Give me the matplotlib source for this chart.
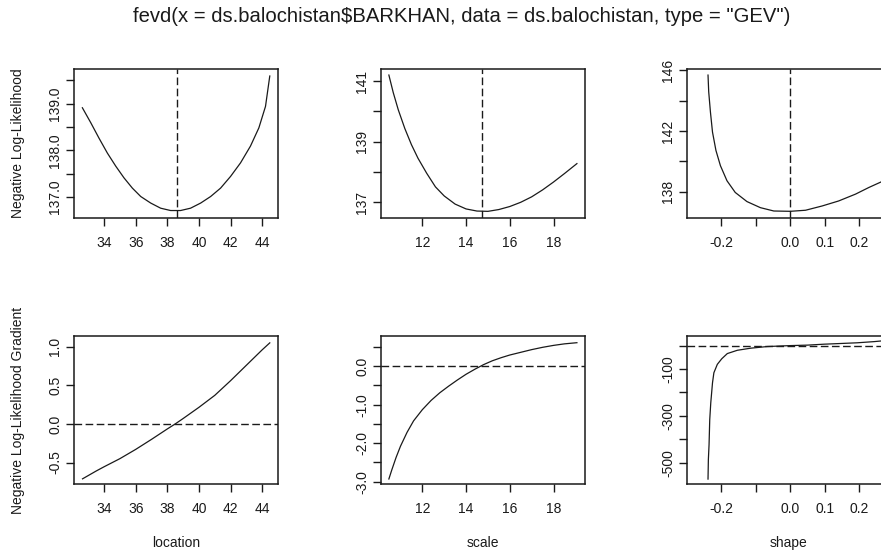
import numpy as np
import matplotlib
matplotlib.use("Agg")
import matplotlib.pyplot as plt

plt.rcParams["font.family"] = ["Liberation Sans", "DejaVu Sans"]

TITLE = 'fevd(x = ds.balochistan$BARKHAN, data = ds.balochistan, type = "GEV")'

# profile negative log-likelihood in each parameter
loc_x = [32.63, 33.16, 33.68, 34.21, 34.74, 35.26, 35.79, 36.32, 36.95, 37.58,
         38.21, 38.84, 39.47, 40.11, 40.74, 41.37, 42.00, 42.63, 43.26, 43.79,
         44.21, 44.48]
loc_nll = [138.91, 138.59, 138.26, 137.94, 137.66, 137.41, 137.19, 137.01, 136.87,
           136.76, 136.71, 136.71, 136.76, 136.87, 137.01, 137.19, 137.44, 137.73,
           138.09, 138.48, 138.94, 139.59]

scale_x = [10.47, 10.67, 10.90, 11.20, 11.50, 11.80, 12.20, 12.60, 13.00, 13.50,
           14.00, 14.50, 15.00, 15.50, 16.00, 16.50, 17.00, 17.50, 18.00, 18.50,
           19.07]
scale_nll = [141.20, 140.62, 140.05, 139.43, 138.90, 138.45, 137.95, 137.50, 137.20,
             136.93, 136.77, 136.70, 136.69, 136.75, 136.85, 136.99, 137.17, 137.40,
             137.66, 137.94, 138.27]

shape_x = [-0.239, -0.237, -0.232, -0.226, -0.216, -0.203, -0.184, -0.160, -0.126,
           -0.087, -0.048, 0.000, 0.044, 0.092, 0.140, 0.189, 0.228, 0.264, 0.300]
shape_nll = [145.68, 144.58, 143.25, 141.93, 140.72, 139.72, 138.73, 137.96, 137.36,
             136.96, 136.74, 136.72, 136.79, 137.07, 137.40, 137.85, 138.29, 138.66,
             139.05]

# gradients of the negative log-likelihood
locg_x = [32.64, 33.50, 34.00, 35.00, 36.00, 37.00, 38.00, 38.50, 39.00, 40.00,
          41.00, 42.00, 43.00, 44.00, 44.48]
locg_y = [-0.711, -0.610, -0.555, -0.450, -0.330, -0.200, -0.065, 0.000, 0.070,
          0.215, 0.370, 0.560, 0.760, 0.960, 1.050]

scaleg_x = [10.47, 10.60, 10.80, 11.00, 11.30, 11.60, 12.00, 12.40, 12.80, 13.20,
            13.60, 14.00, 14.40, 14.80, 15.20, 15.60, 16.00, 16.50, 17.00, 17.50,
            18.00, 18.50, 19.07]
scaleg_y = [-2.93, -2.70, -2.37, -2.08, -1.72, -1.42, -1.13, -0.89, -0.69, -0.52,
            -0.36, -0.21, -0.08, 0.04, 0.14, 0.22, 0.29, 0.36, 0.43, 0.49, 0.54,
            0.58, 0.61]

shapeg_x = [-0.239, -0.238, -0.236, -0.234, -0.231, -0.226, -0.222, -0.212, -0.199,
            -0.183, -0.154, -0.115, -0.067, 0.000, 0.049, 0.097, 0.146, 0.194,
            0.243, 0.265, 0.300]
shapeg_y = [-570, -487, -423, -316, -244, -159, -116, -80, -56, -34, -20, -11, -4,
            0, 2, 6, 9, 12, 17, 20, 24]

# parameter estimates (dashed markers)
mle = {"location": 38.59, "scale": 14.75, "shape": 0.0}

W, H = 881, 554
fig = plt.figure(figsize=(W / 100, H / 100), dpi=100)
fig.patch.set_facecolor("white")


def panel(left, top, right, bottom):
    return fig.add_axes([left / W, 1 - bottom / H, (right - left) / W, (bottom - top) / H])


def style(ax, xlim, ylim, xticks, xlabels, yticks, ylabels):
    ax.set_xlim(*xlim)
    ax.set_ylim(*ylim)
    ax.set_xticks(xticks)
    ax.set_xticklabels(xlabels)
    ax.set_yticks(yticks)
    ax.set_yticklabels(ylabels, rotation=90, va="center")
    ax.tick_params(direction="out", length=5.5, width=1.0, labelsize=10,
                   colors="#1a1a1a")
    ax.tick_params(axis="x", pad=7.5)
    ax.tick_params(axis="y", pad=3)
    for s in ax.spines.values():
        s.set_linewidth(1.1)
        s.set_color("#1a1a1a")


LINE = dict(color="#1a1a1a", lw=0.9)
DASH = dict(color="#1a1a1a", lw=1.0, ls=(0, (5.5, 2.5)))

cols = [(74, 278), (381, 585), (687, 891)]
rows = [(69, 218), (336, 484)]

loc_ticks = [34, 36, 38, 40, 42, 44]
scale_ticks = [12, 14, 16, 18]
shape_ticks = [-0.2, -0.1, 0.0, 0.1, 0.2]
shape_labels = ["-0.2", "", "0.0", "0.1", "0.2"]

# top row: likelihood profiles
ax = panel(cols[0][0], rows[0][0], cols[0][1], rows[0][1])
ax.plot(loc_x, loc_nll, **LINE)
ax.axvline(mle["location"], **DASH)
style(ax, (32.10, 45.0), (136.55, 139.74), loc_ticks, [str(t) for t in loc_ticks],
      [137.0, 137.5, 138.0, 138.5, 139.0, 139.5],
      ["137.0", "", "138.0", "", "139.0", ""])

ax = panel(cols[1][0], rows[0][0], cols[1][1], rows[0][1])
ax.plot(scale_x, scale_nll, **LINE)
ax.axvline(mle["scale"], **DASH)
style(ax, (10.11, 19.44), (136.47, 141.40), scale_ticks, [str(t) for t in scale_ticks],
      [137, 138, 139, 140, 141], ["137", "", "139", "", "141"])

ax = panel(cols[2][0], rows[0][0], cols[2][1], rows[0][1])
ax.plot(shape_x, shape_nll, **LINE)
ax.axvline(mle["shape"], **DASH)
style(ax, (-0.300, 0.292), (136.28, 146.08), shape_ticks, shape_labels,
      [138, 140, 142, 144, 146], ["138", "", "142", "", "146"])

# bottom row: gradients
ax = panel(cols[0][0], rows[1][0], cols[0][1], rows[1][1])
ax.plot(locg_x, locg_y, **LINE)
ax.axhline(0, **DASH)
style(ax, (32.10, 45.0), (-0.778, 1.139), loc_ticks, [str(t) for t in loc_ticks],
      [-0.5, 0.0, 0.5, 1.0], ["-0.5", "0.0", "0.5", "1.0"])

ax = panel(cols[1][0], rows[1][0], cols[1][1], rows[1][1])
ax.plot(scaleg_x, scaleg_y, **LINE)
ax.axhline(0, **DASH)
style(ax, (10.11, 19.44), (-3.06, 0.784), scale_ticks, [str(t) for t in scale_ticks],
      [-3.0, -2.5, -2.0, -1.5, -1.0, -0.5, 0.0, 0.5],
      ["-3.0", "", "-2.0", "", "-1.0", "", "0.0", ""])

ax = panel(cols[2][0], rows[1][0], cols[2][1], rows[1][1])
ax.plot(shapeg_x, shapeg_y, **LINE)
ax.axhline(0, **DASH)
style(ax, (-0.300, 0.292), (-591, 41), shape_ticks, shape_labels,
      [-500, -400, -300, -200, -100, 0], ["-500", "", "-300", "", "-100", ""])

# labels
fig.text(462 / W, 1 - 17 / H, TITLE, ha="center", va="center", fontsize=14.6,
         color="#1a1a1a")
fig.text(18 / W, 1 - 143.5 / H, "Negative Log-Likelihood", rotation=90,
         ha="center", va="center", fontsize=10, color="#1a1a1a")
fig.text(18 / W, 1 - 410 / H, "Negative Log-Likelihood Gradient", rotation=90,
         ha="center", va="center", fontsize=10, color="#1a1a1a")
for name, (l, r) in zip(["location", "scale", "shape"], cols):
    fig.text((l + r) / 2 / W, 1 - 543 / H, name, ha="center", va="center",
             fontsize=10, color="#1a1a1a")

fig.savefig("out.png", dpi=100)
